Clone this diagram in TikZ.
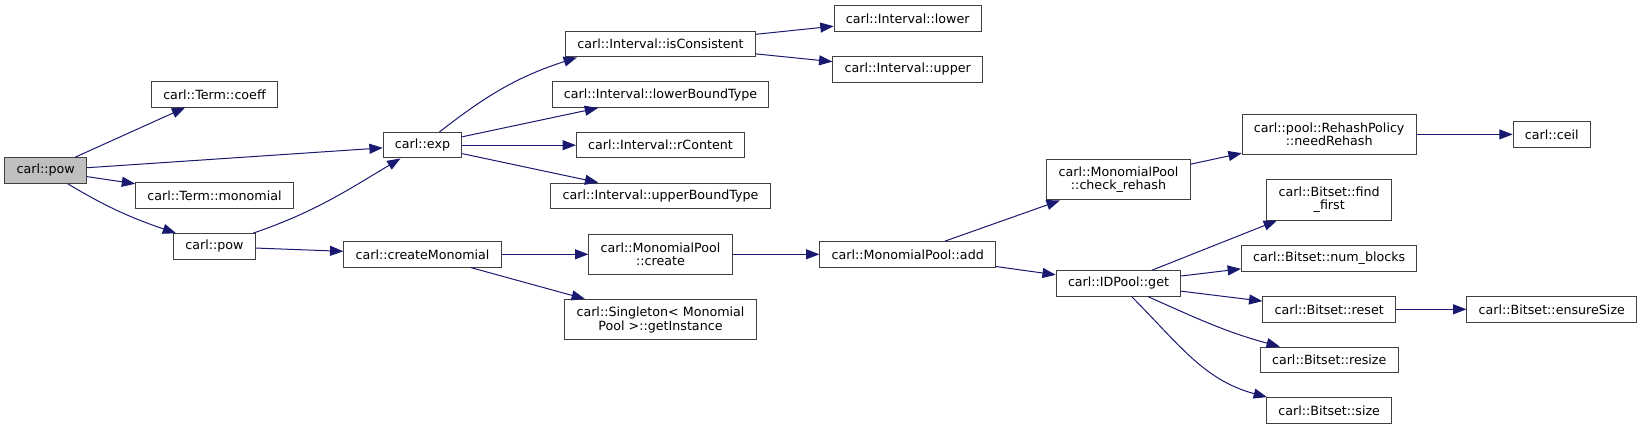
\documentclass[tikz,border=0pt]{standalone}
\usepackage{fontspec}
\setmainfont{DejaVu Sans}
\usetikzlibrary{arrows.meta}
\definecolor{edgeBlue}{HTML}{191970}
\definecolor{boxLine}{HTML}{404040}
\definecolor{rootGray}{HTML}{BFBFBF}

\begin{document}
\begin{tikzpicture}[
  x=0.75pt, y=0.75pt,
  every node/.style={font=\fontsize{9.5pt}{10.3pt}\selectfont, align=center},
  funcbox/.style={
    rectangle, draw=boxLine, fill=white, line width=0.75pt,
    inner xsep=8.8pt, inner ysep=2pt,
    minimum height=19.1pt
  },
  rootbox/.style={funcbox, fill=rootGray},
  twobox/.style={funcbox, minimum height=30.4pt},
  arrow/.style={-{Triangle[length=10pt, width=7.5pt]}, line width=0.75pt, edgeBlue}
]
 % Frame of the picture (pixel units, y downwards as negative)
 \useasboundingbox (0,0) rectangle (1643,-429);

 % Column 0: the function itself
 \node[rootbox] (pow) at (45.7,-170.5) {carl::pow};

 % Column 1
 \node[funcbox] (coeff) at (214.5,-94.3) {carl::Term::coeff};
 \node[funcbox] (mono) at (214.5,-195.5) {carl::Term::monomial};
 \node[funcbox] (pow2) at (214.5,-246.5) {carl::pow};

 % Column 2
 \node[funcbox] (exp) at (422.5,-145.2) {carl::exp};
 \node[funcbox] (cmono) at (422.5,-254.3) {carl::createMonomial};

 % Column 3
 \node[funcbox] (isc) at (660.5,-44.2) {carl::Interval::isConsistent};
 \node[funcbox] (lbt) at (660.5,-94.7) {carl::Interval::lowerBoundType};
 \node[funcbox] (rcont) at (660.5,-145.2) {carl::Interval::rContent};
 \node[funcbox] (ubt) at (660.5,-195.8) {carl::Interval::upperBoundType};
 \node[twobox] (create) at (660.5,-254.3) {carl::MonomialPool\\::create};
 \node[twobox] (inst) at (660.5,-319.7) {carl::Singleton< Monomial\\Pool >::getInstance};

 % Column 4
 \node[funcbox] (lower) at (907.7,-18.5) {carl::Interval::lower};
 \node[funcbox] (upper) at (907.7,-69.3) {carl::Interval::upper};
 \node[funcbox] (add) at (907.7,-254.3) {carl::MonomialPool::add};

 % Column 5
 \node[twobox] (rehash) at (1118.5,-179.7) {carl::MonomialPool\\::check\_rehash};
 \node[funcbox] (get) at (1118.5,-283.5) {carl::IDPool::get};

 % Column 6
 \node[twobox] (need) at (1329.2,-134.4) {carl::pool::RehashPolicy\\::needRehash};
 \node[twobox] (ffirst) at (1329.2,-199.8) {carl::Bitset::find\\\_first};
 \node[funcbox] (nblk) at (1329.2,-258.3) {carl::Bitset::num\_blocks};
 \node[funcbox] (reset) at (1329.2,-309.3) {carl::Bitset::reset};
 \node[funcbox] (resize) at (1329.2,-359.8) {carl::Bitset::resize};
 \node[funcbox] (size) at (1329.2,-410.3) {carl::Bitset::size};

 % Column 7
 \node[funcbox] (ceil) at (1551.8,-134.4) {carl::ceil};
 \node[funcbox] (ensure) at (1551.8,-309.3) {carl::Bitset::ensureSize};

 % Calls
 \draw[arrow] (pow) -- (coeff);
 \draw[arrow] (pow) -- (exp);
 \draw[arrow] (pow) -- (mono);
 \draw[arrow] (pow) to[out=-31, in=161] (pow2);
 \draw[arrow] (pow2) to[out=19, in=211] (exp);
 \draw[arrow] (pow2) -- (cmono);
 \draw[arrow] (exp) to[out=38, in=198] (isc.189);
 \draw[arrow] (exp) -- (lbt);
 \draw[arrow] (exp) -- (rcont);
 \draw[arrow] (exp) -- (ubt);
 \draw[arrow] (cmono) -- (create);
 \draw[arrow] (cmono) -- (inst);
 \draw[arrow] (isc) -- (lower);
 \draw[arrow] (isc) -- (upper);
 \draw[arrow] (create) -- (add);
 \draw[arrow] (add) -- (rehash);
 \draw[arrow] (add) -- (get);
 \draw[arrow] (rehash) -- (need);
 \draw[arrow] (need) -- (ceil);
 \draw[arrow] (get) -- (ffirst);
 \draw[arrow] (get) -- (nblk);
 \draw[arrow] (get) -- (reset);
 \draw[arrow] (get) to[out=-24, in=165] (resize);
 \draw[arrow] (get) to[out=-45, in=165] (size.168);
 \draw[arrow] (reset) -- (ensure);
\end{tikzpicture}
\end{document}
